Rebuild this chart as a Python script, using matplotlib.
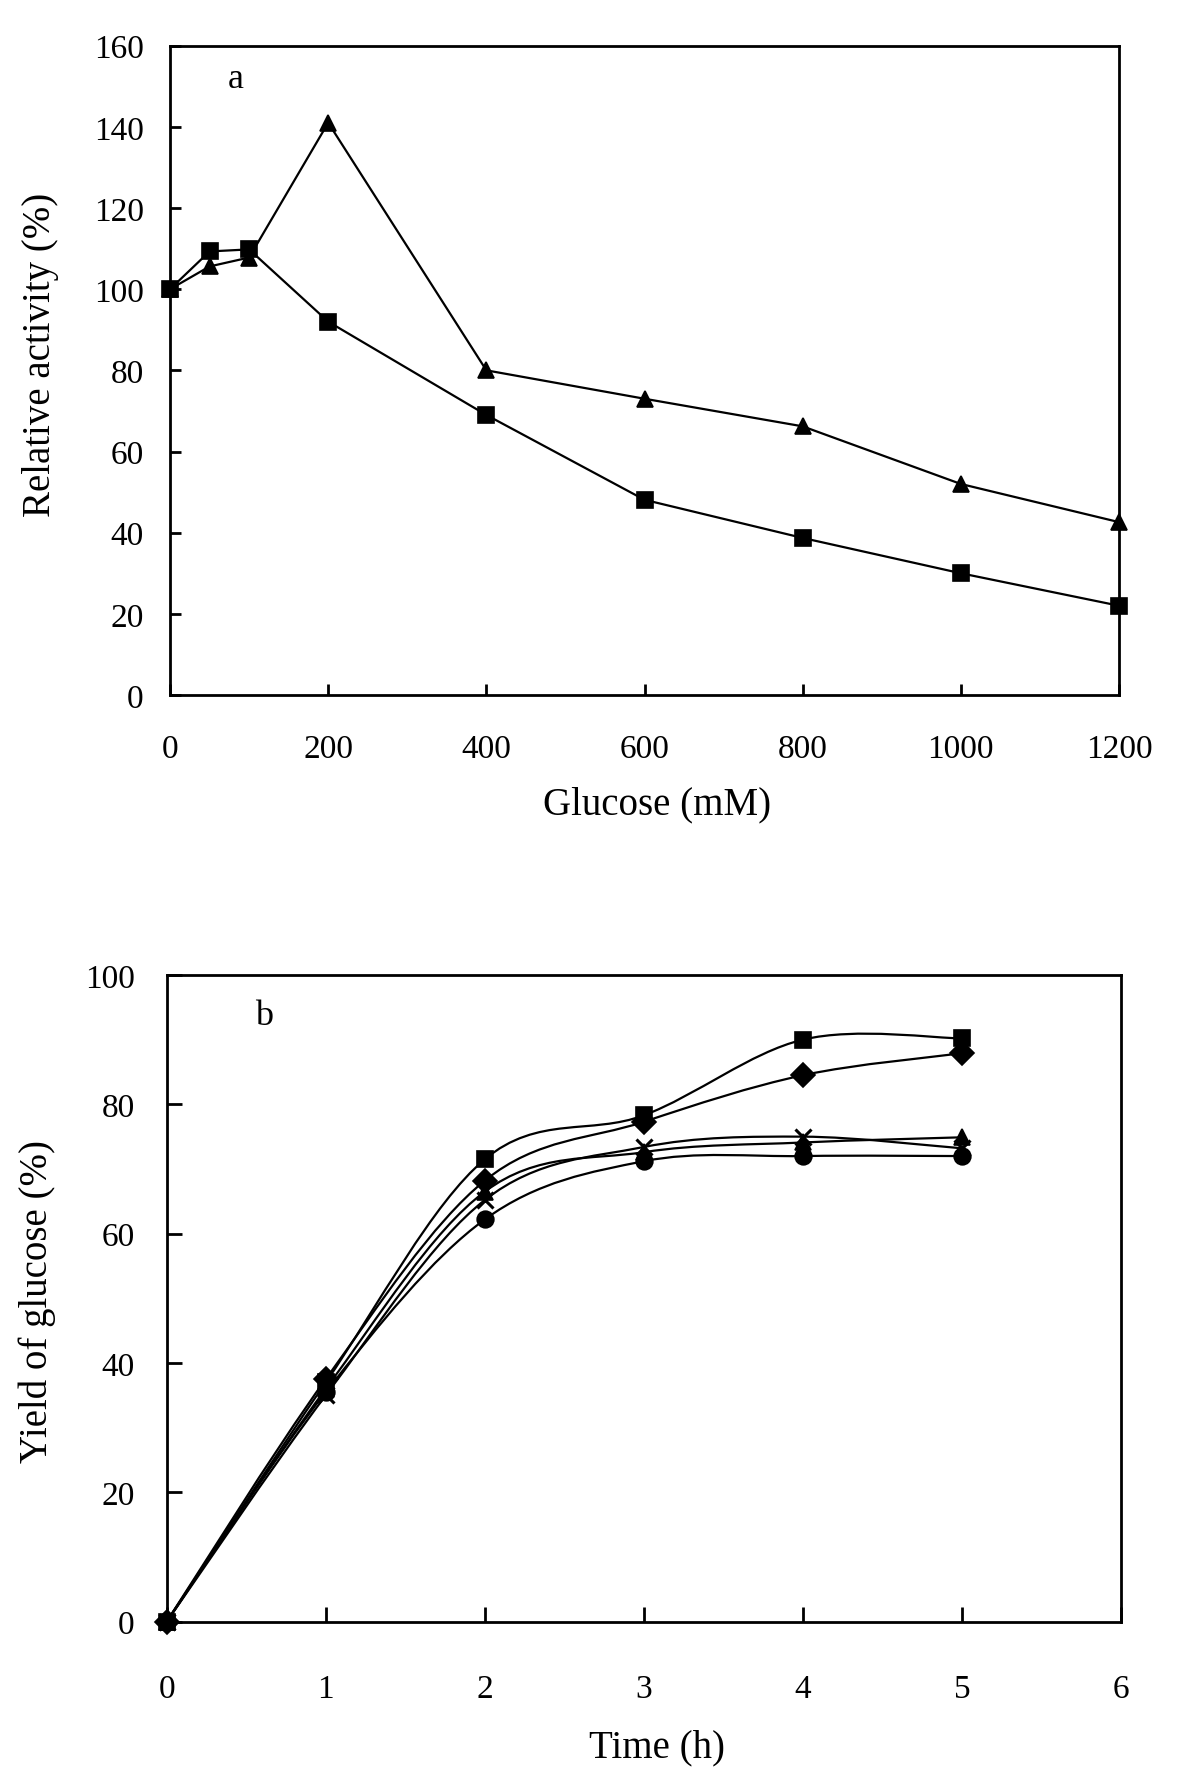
import numpy as np
import matplotlib
matplotlib.use("Agg")
from matplotlib import pyplot as plt
from matplotlib.path import Path
from matplotlib.patches import PathPatch

plt.rcParams['font.family'] = ['Liberation Serif', 'DejaVu Serif']

# panel a: relative activity vs glucose
glucose = [0, 50, 100, 200, 400, 600, 800, 1000, 1200]
act_triangle = [100, 105.6, 107.8, 141, 80, 73, 66.2, 52, 42.6]
act_square = [100, 109.3, 109.8, 92, 69, 48.1, 38.7, 30, 22]

# panel b: yield of glucose vs time
time_h = [0, 1, 2, 3, 4, 5]
yield_square = [0, 37, 71.5, 78.3, 90, 90.2]
yield_diamond = [0, 37.5, 68.2, 77.3, 84.5, 87.9]
yield_triangle = [0, 36, 66.5, 72.6, 74.1, 74.9]
yield_cross = [0, 35, 65.2, 73.4, 75, 73.2]
yield_circle = [0, 35.5, 62.2, 71.2, 72, 72]


def smooth_path(x, y):
    # Excel style smoothed line: cubic bezier through the points
    p = np.column_stack([x, y]).astype(float)
    n = len(p)
    verts = [p[0]]
    codes = [Path.MOVETO]
    for i in range(n - 1):
        p0 = p[i - 1] if i > 0 else p[i]
        p3 = p[i + 2] if i + 2 < n else p[i + 1]
        c1 = p[i] + (p[i + 1] - p0) / 6.0
        c2 = p[i + 1] - (p3 - p[i]) / 6.0
        verts += [c1, c2, p[i + 1]]
        codes += [Path.CURVE4] * 3
    return Path(verts, codes)


fig = plt.figure(figsize=(12, 17.81), dpi=100)

# ---- panel a
ax1 = fig.add_axes([0.1417, 0.6092, 0.7908, 0.3646])
ax1.plot(glucose, act_triangle, color='k', lw=1.6, marker='^', ms=12, mew=1.2,
         clip_on=False, zorder=3)
ax1.plot(glucose, act_square, color='k', lw=1.6, marker='s', ms=12, mew=1.2,
         clip_on=False, zorder=3)
ax1.set_xlim(0, 1200)
ax1.set_ylim(0, 160)
ax1.set_xticks(range(0, 1201, 200))
ax1.set_yticks(range(0, 161, 20))
ax1.tick_params(direction='in', length=8, width=2, labelsize=24, pad=19)
ax1.tick_params(axis='x', pad=28)
ax1.text(83, 152, 'a', fontsize=26, ha='center', va='center')
ax1.set_xlabel('Glucose (mM)', fontsize=28)
ax1.set_ylabel('Relative activity (%)', fontsize=28)
ax1.xaxis.set_label_coords(0.513, -0.168)
ax1.yaxis.set_label_coords(-0.137, 0.525)
ax1.xaxis.label.set_va('center')
ax1.yaxis.label.set_va('center')

# ---- panel b
ax2 = fig.add_axes([0.1389, 0.0889, 0.7953, 0.3631])
series = [
    (yield_circle, 'o', 12, 1.2),
    (yield_triangle, '^', 11, 1.2),
    (yield_cross, 'x', 12, 2.2),
    (yield_diamond, 'D', 12.5, 1.2),
    (yield_square, 's', 12, 1.2),
]
for vals, mk, ms, mew in series:
    ax2.add_patch(PathPatch(smooth_path(time_h, vals), fill=False,
                            edgecolor='k', lw=1.6))
    ax2.plot(time_h, vals, linestyle='none', marker=mk, ms=ms, mew=mew,
             color='k', mfc='k', mec='k', clip_on=False, zorder=3)
ax2.set_xlim(0, 6)
ax2.set_ylim(0, 100)
ax2.set_xticks(range(0, 7))
ax2.set_yticks(range(0, 101, 20))
ax2.tick_params(direction='in', length=10.5, width=2, labelsize=24, pad=23)
ax2.tick_params(axis='x', pad=37)
ax2.text(0.61, 93.8, 'b', fontsize=26, ha='center', va='center')
ax2.set_xlabel('Time (h)', fontsize=28)
ax2.set_ylabel('Yield of glucose (%)', fontsize=28)
ax2.xaxis.set_label_coords(0.514, -0.194)
ax2.yaxis.set_label_coords(-0.136, 0.497)
ax2.xaxis.label.set_va('center')
ax2.yaxis.label.set_va('center')

for ax in (ax1, ax2):
    for s in ax.spines.values():
        s.set_linewidth(2)
    ax.tick_params(top=False, right=False)

fig.savefig('out.png', dpi=100)
